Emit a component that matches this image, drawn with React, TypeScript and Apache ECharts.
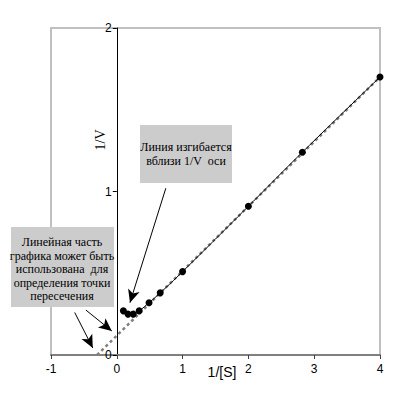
import React, { useEffect, useRef } from "react";
import * as echarts from "echarts";

const invS = [0.1, 0.17, 0.25, 0.34, 0.49, 0.66, 1.0, 2.0, 2.82, 4.0];
const invV = [0.27, 0.25, 0.25, 0.27, 0.32, 0.38, 0.51, 0.91, 1.24, 1.7];
const fitX = [-0.3, 4.0];
const fitY = [0.0, 1.7];
const xTicks = [-1, 0, 1, 2, 3, 4];
const yTicks = [0, 1, 2];
const arrows = [
  { from: [0.745, 1.02], to: [0.2, 0.32] },
  { from: [-0.64, 0.26], to: [-0.365, 0.043] },
  { from: [-0.47, 0.275], to: [-0.076, 0.147] },
];
const note1 = ["Линия изгибается", "вблизи 1/V  оси"];
const note2 = ["Линейная часть", "графика может быть", "использована  для", "определения точки", "пересечения"];

export default function App() {
  const ref = useRef<HTMLDivElement>(null);
  useEffect(() => {
    if (!ref.current) return;
    const chart = echarts.init(ref.current, null, { renderer: "svg" });
    const serif = "Times New Roman";
    const sans = "Arial";
    const gridLeft = 51;
    const gridRight = 13;
    const plotW = 393 - gridLeft - gridRight;
    const xMin = xTicks[0];
    const xMax = xTicks[xTicks.length - 1];
    const yOffset = -((0 - xMin) / (xMax - xMin)) * plotW;
    chart.setOption({
      animation: false,
      grid: { left: gridLeft, right: gridRight, top: 28, bottom: 42, show: true, borderColor: "#c0c0c0", borderWidth: 2, backgroundColor: "#fff" },
      xAxis: {
        type: "value",
        min: xMin,
        max: xMax,
        interval: 1,
        splitLine: { show: false },
        axisLine: { lineStyle: { color: "#808080", width: 2 } },
        axisTick: { lineStyle: { color: "#404040" }, length: 4 },
        axisLabel: { color: "#000", fontFamily: sans, fontSize: 12, margin: 8 },
      },
      yAxis: {
        type: "value",
        min: yTicks[0],
        max: yTicks[yTicks.length - 1],
        interval: 1,
        offset: yOffset,
        splitLine: { show: false },
        axisLine: { onZero: false, lineStyle: { color: "#000", width: 1 } },
        axisTick: { lineStyle: { color: "#000" }, length: 4 },
        axisLabel: { color: "#000", fontFamily: sans, fontSize: 12, margin: 5 },
      },
      series: [
        {
          type: "line",
          data: fitX.map((x, i) => [x, fitY[i]]),
          symbol: "none",
          lineStyle: { color: "#808080", width: 2.5, type: [3, 3] },
          z: 2,
        },
        {
          type: "line",
          data: invS.map((x, i) => [x, invV[i]]),
          smooth: true,
          symbol: "circle",
          symbolSize: 7,
          itemStyle: { color: "#000" },
          lineStyle: { color: "#000", width: 1 },
          z: 3,
          markLine: {
            silent: true,
            symbol: ["none", "arrow"],
            symbolSize: [9, 13],
            lineStyle: { color: "#000", width: 1, type: "solid" },
            label: { show: false },
            data: arrows.map((a) => [{ coord: a.from }, { coord: a.to }]),
          },
        },
      ],
      graphic: [
        { type: "rect", shape: { x: 140, y: 125, width: 92, height: 58 }, style: { fill: "#cccccc" } },
        {
          type: "text",
          x: 186,
          y: 154,
          style: { text: note1.join("\n"), font: "12px " + serif + ", serif", fill: "#000", align: "center", verticalAlign: "middle", lineHeight: 14 },
        },
        { type: "rect", shape: { x: 11, y: 227, width: 103, height: 80 }, style: { fill: "#cccccc" } },
        {
          type: "text",
          x: 62,
          y: 269,
          style: { text: note2.join("\n"), font: "12px " + serif + ", serif", fill: "#000", align: "center", verticalAlign: "middle", lineHeight: 13.5 },
        },
        {
          type: "text",
          x: 100,
          y: 140,
          rotation: Math.PI / 2,
          style: { text: "1/V", font: "14px " + serif + ", serif", fill: "#000", align: "center", verticalAlign: "middle" },
        },
        {
          type: "text",
          x: 222,
          y: 372,
          style: { text: "1/[S]", font: "14px " + sans + ", sans-serif", fill: "#000", align: "center", verticalAlign: "middle" },
        },
      ],
    });
    return () => chart.dispose();
  }, []);
  return <div ref={ref} style={{ position: "fixed", left: 0, top: 0, width: 393, height: 397, background: "#fff" }} />;
}
